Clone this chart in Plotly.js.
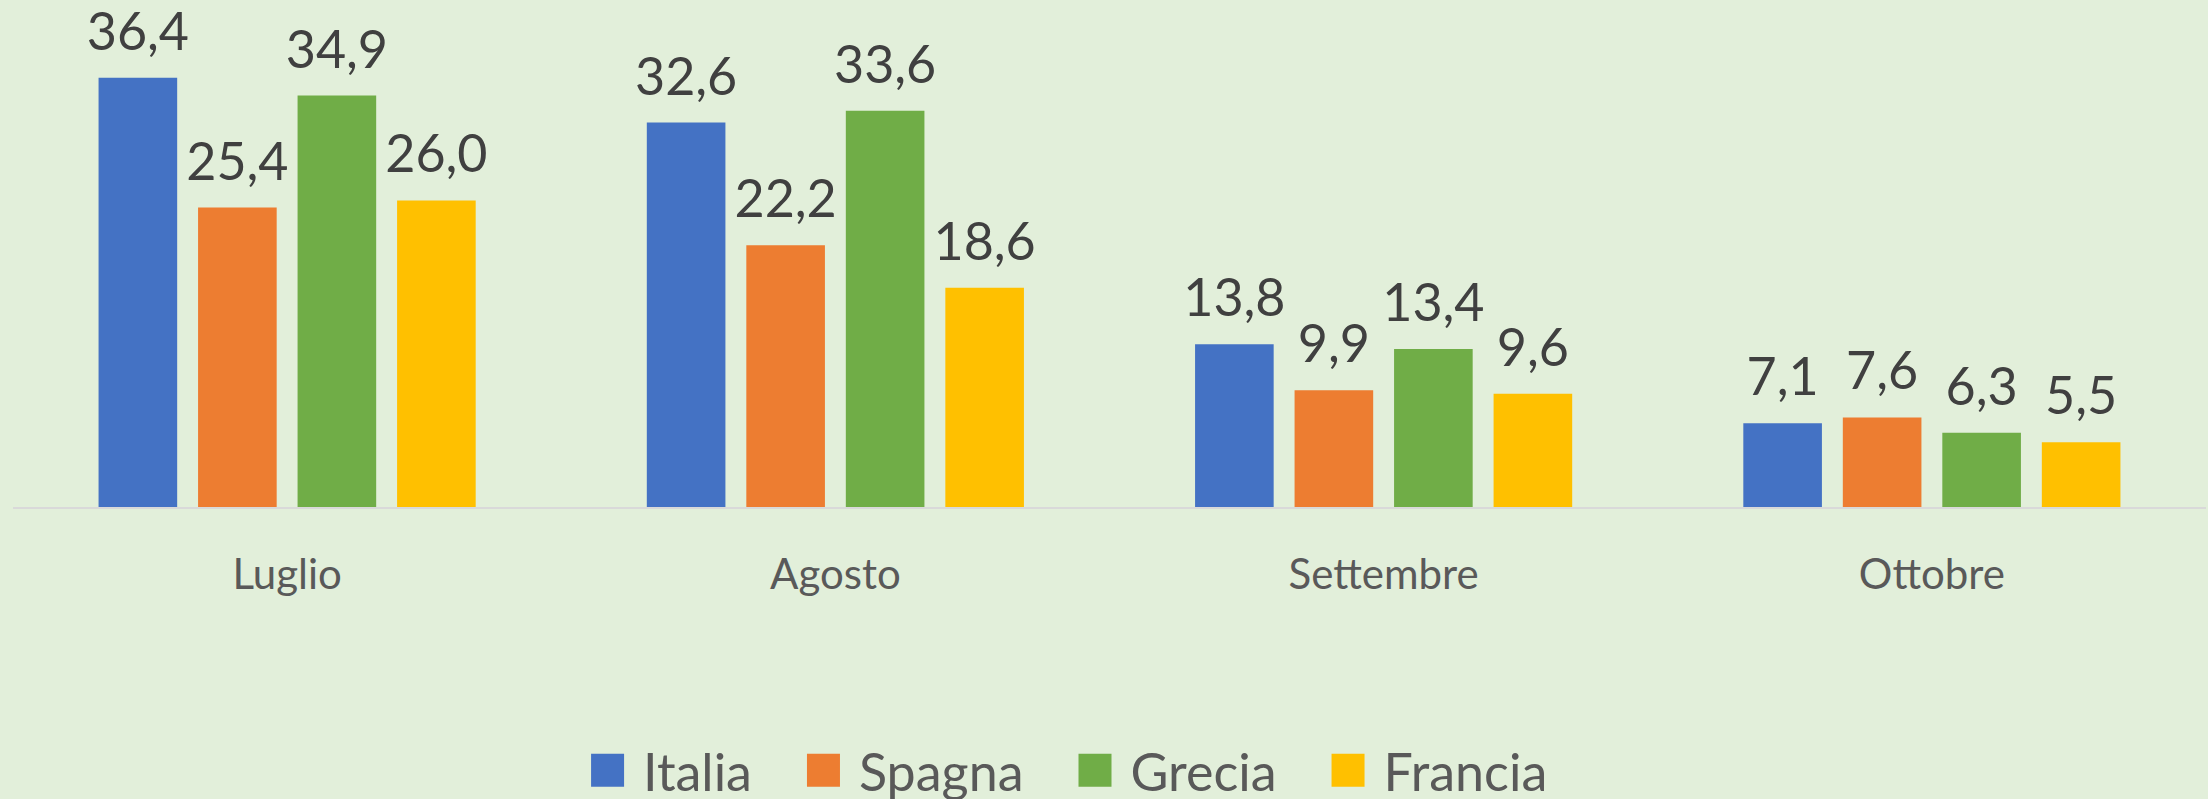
<!DOCTYPE html>
<html>
<head>
<meta charset="utf-8">
<script src="https://cdn.plot.ly/plotly-3.0.1.min.js"></script>
<style>
  html, body { margin: 0; padding: 0; background: #E2EFDA; }
  #chart { width: 2208px; height: 799px; }
</style>
</head>
<body>
<div id="chart"></div>
<script>
const months = ['Luglio', 'Agosto', 'Settembre', 'Ottobre'];
const seriesNames = ['Italia', 'Spagna', 'Grecia', 'Francia'];
const italia  = [36.4, 32.6, 13.8, 7.1];
const spagna  = [25.4, 22.2, 9.9, 7.6];
const grecia  = [34.9, 33.6, 13.4, 6.3];
const francia = [26.0, 18.6, 9.6, 5.5];
const colors = ['#4472C4', '#ED7D31', '#70AD47', '#FFC000'];

const seriesValues = [italia, spagna, grecia, francia];
const FONT = 'Lato, "Open Sans", sans-serif';

const traces = seriesValues.map((vals, i) => ({
  type: 'bar',
  name: seriesNames[i],
  x: months,
  y: vals,
  marker: { color: colors[i] },
  texttemplate: '%{y:.1f}',
  textposition: 'outside',
  constraintext: 'none',
  cliponaxis: false,
  outsidetextfont: { family: FONT, size: 52, color: '#404040' },
  hoverinfo: 'none'
}));

const layout = {
  width: 2208,
  height: 799,
  margin: { l: 13, r: 2, t: 0, b: 292, pad: 0 },
  paper_bgcolor: '#E2EFDA',
  plot_bgcolor: '#E2EFDA',
  separators: ',.',
  barmode: 'group',
  bargap: 0.274,
  bargroupgap: 0.21,
  showlegend: true,
  legend: {
    orientation: 'h',
    x: 0.2408,
    xanchor: 'left',
    y: -0.576,
    yanchor: 'bottom',
    itemwidth: 92,
    font: { family: FONT, size: 52, color: '#595959' },
    bgcolor: 'rgba(0,0,0,0)',
    itemclick: false
  },
  xaxis: {
    type: 'category',
    showline: true,
    linecolor: '#D9D9D9',
    linewidth: 2,
    showgrid: false,
    zeroline: false,
    ticks: '',
    ticklabelstandoff: 30,
    tickfont: { family: FONT, size: 42, color: '#595959' }
  },
  yaxis: {
    range: [0, 43],
    visible: false,
    showgrid: false,
    zeroline: false
  }
};

Plotly.newPlot('chart', traces, layout, { displayModeBar: false, staticPlot: true }).then(() => {
  // enlarge legend swatches to match the reference's big squares, sitting just left of the text
  document.querySelectorAll('.legend .legendpoints path').forEach(p => {
    p.setAttribute('transform', 'translate(66.5,0) scale(2.75)');
  });
  // push legend slightly lower, as in the reference
  const lg = document.querySelector('.legend');
  if (lg) {
    const t = lg.getAttribute('transform') || '';
    lg.setAttribute('transform', t + ' translate(0,12)');
  }
  // lift data labels a bit further off the bars
  document.querySelectorAll('.bartext').forEach(el => {
    const t = el.getAttribute('transform') || '';
    el.setAttribute('transform', 'translate(0,-14) ' + t);
  });
});
</script>
</body>
</html>
